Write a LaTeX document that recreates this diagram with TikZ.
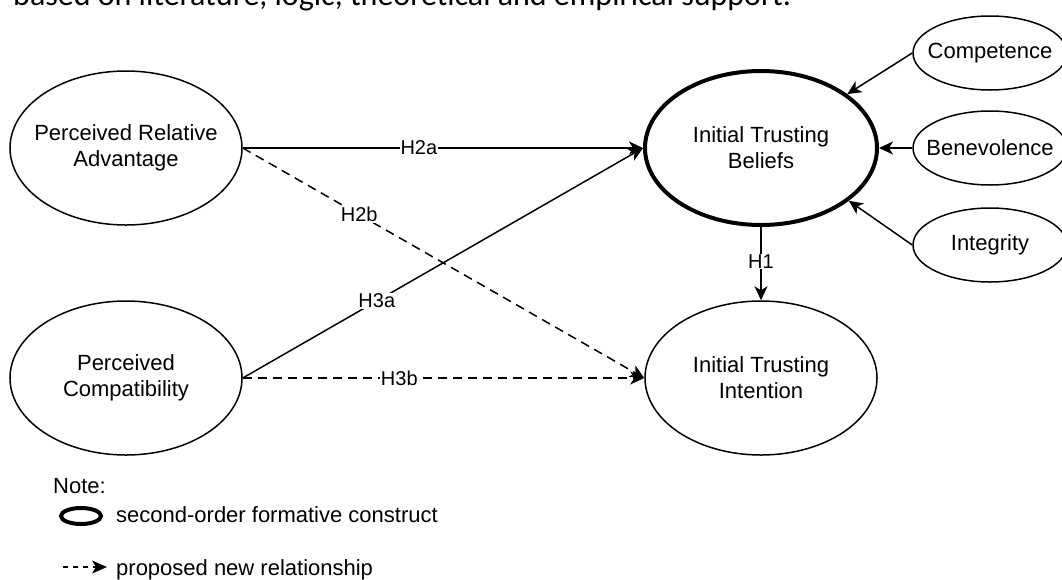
\documentclass[tikz,border=0pt]{standalone}
\usepackage{fontspec}
\setmainfont{Liberation Sans}
\newfontfamily\calib{Carlito}
\usetikzlibrary{shapes.geometric,arrows.meta}
\begin{document}
\begin{tikzpicture}[x=1pt,y=-1pt,
 every node/.style={font=\fontsize{22}{26}\selectfont},
 every label/.style={align=center,inner sep=0pt},
 cons/.style={ellipse,draw,line width=1.5pt,minimum width=232pt,minimum height=154pt,inner sep=0pt},
 second/.style={cons,line width=4pt},
 dimn/.style={ellipse,draw,line width=1.5pt,minimum width=154pt,minimum height=74pt,inner sep=0pt},
 link/.style={line width=1.5pt,-{Stealth[length=14pt,width=13pt,inset=4pt]}},
 newlink/.style={link,dash pattern=on 9pt off 6pt},
 lab/.style={fill=white,inner sep=1pt,font=\fontsize{20}{24}\selectfont}]
\useasboundingbox (0,0) rectangle (1062,579);
% cut-off caption line
\node[anchor=base west,inner sep=0pt,font=\calib\fontsize{32}{36}\selectfont] (cap) at (13,5) {based on literature, logic, theoretical and empirical support.};
% constructs
\node[cons,label={center:Perceived Relative\\Advantage}] (pra) at (126,148) {};
\node[cons,label={center:Perceived\\Compatibility}] (pc) at (126,378) {};
\node[second,label={center:Initial Trusting\\Beliefs}] (itb) at (761,148) {};
\node[cons,label={center:Initial Trusting\\Intention}] (iti) at (761,378) {};
\node[dimn,label={center:Competence}] (comp) at (990,53) {};
\node[dimn,label={center:Benevolence}] (bene) at (990,148) {};
\node[dimn,label={center:Integrity}] (integ) at (990,245) {};
% links
\draw[link] (pra.east) -- node[lab,pos=0.44] {H2a} (itb.west);
\draw[newlink] (pra.east) -- node[lab,pos=0.29] {H2b} (iti.west);
\draw[link] (pc.east) -- node[lab,pos=0.335] {H3a} (itb.west);
\draw[newlink] (pc.east) -- node[lab,pos=0.39] {H3b} (iti.west);
\draw[link] (itb.south) -- node[lab,pos=0.47] {H1} (iti.north);
\draw[link] (comp.west) -- (itb.32);
\draw[link] (bene.west) -- (itb.east);
\draw[link] (integ.west) -- (itb.-31);
% legend
\node[anchor=base west,inner sep=0pt] (note) at (53,493) {Note:};
\node[ellipse,draw,line width=4pt,minimum width=40pt,minimum height=16pt,inner sep=0pt] (legell) at (81,516) {};
\node[anchor=base west,inner sep=0pt] (legt1) at (116,522) {second-order formative construct};
\coordinate (la) at (63,567);
\coordinate (lb) at (107,567);
\draw[line width=1.5pt,dash pattern=on 5pt off 5pt,-{Stealth[length=15pt,width=13pt,inset=4pt]}] (la) -- (lb);
\node[anchor=base west,inner sep=0pt] (legt2) at (116,575) {proposed new relationship};
\end{tikzpicture}
\end{document}
